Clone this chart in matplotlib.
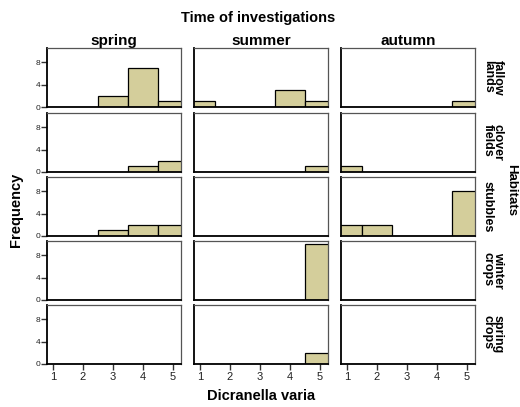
import matplotlib
matplotlib.use("Agg")
import matplotlib.pyplot as plt

plt.rcParams["font.family"] = ["Liberation Sans", "DejaVu Sans"]

seasons = ["spring", "summer", "autumn"]
habitats = ["fallow\nlands", "clover\nfields", "stubbles", "winter\ncrops", "spring\ncrops"]
bin_centers = [1, 2, 3, 4, 5]

# counts per bin, one list per habitat, for each season
spring_counts = [[0, 0, 2, 7, 1],
                 [0, 0, 0, 1, 2],
                 [0, 0, 1, 2, 2],
                 [0, 0, 0, 0, 0],
                 [0, 0, 0, 0, 0]]
summer_counts = [[1, 0, 0, 3, 1],
                 [0, 0, 0, 0, 1],
                 [0, 0, 0, 0, 0],
                 [0, 0, 0, 0, 10],
                 [0, 0, 0, 0, 2]]
autumn_counts = [[0, 0, 0, 0, 1],
                 [1, 0, 0, 0, 0],
                 [2, 2, 0, 0, 8],
                 [0, 0, 0, 0, 0],
                 [0, 0, 0, 0, 0]]
counts = [spring_counts, summer_counts, autumn_counts]

y_ticks = [0, 4, 8]

W, H = 520, 407
fig = plt.figure(figsize=(W / 100, H / 100), dpi=100)

col_left = [47, 194, 341]
col_w = 134
row_top = [48, 113, 177, 241, 305]
row_h = 59

bar_colour = "#D4CE9B"

for c, season in enumerate(seasons):
    for r, hab in enumerate(habitats):
        x0 = col_left[c] / W
        y0 = 1 - (row_top[r] + row_h) / H
        ax = fig.add_axes([x0, y0, col_w / W, row_h / H])
        ax.bar(bin_centers, counts[c][r], width=1.0, color=bar_colour,
               edgecolor="black", linewidth=0.9)
        ax.set_xlim(0.8, 5.27)
        ax.set_ylim(0, 10.5)
        for s in ("top", "right"):
            ax.spines[s].set_color("#555555")
            ax.spines[s].set_linewidth(0.9)
        for s in ("left", "bottom"):
            ax.spines[s].set_color("black")
            ax.spines[s].set_linewidth(1.3)
        ax.set_xticks(bin_centers)
        ax.set_yticks(y_ticks)
        ax.tick_params(axis="both", direction="out", length=4, width=1,
                       colors="#333333", labelcolor="#222222")
        ax.tick_params(axis="y", labelsize=6, pad=1)
        ax.tick_params(axis="x", labelsize=8, pad=2)
        if c != 0:
            ax.tick_params(axis="y", left=False, labelleft=False)
        if r != len(habitats) - 1:
            ax.tick_params(axis="x", bottom=False, labelbottom=False)
        if r == 0:
            ax.set_title(season, fontsize=11, fontweight="bold", pad=2)
        if c == len(seasons) - 1:
            ax.text(1.05, 0.5, hab, transform=ax.transAxes, rotation=-90,
                    ha="left", va="center", fontsize=9, fontweight="bold",
                    linespacing=0.8)

fig.text(258 / W, 1 - 18 / H, "Time of investigations", ha="center",
         va="center", fontsize=10.5, fontweight="bold")
fig.text(261 / W, 1 - 396 / H, "Dicranella varia", ha="center",
         va="center", fontsize=10.5, fontweight="bold")
fig.text(16 / W, 1 - 210 / H, "Frequency", ha="center", va="center",
         rotation=90, fontsize=10.5, fontweight="bold")
fig.text(511 / W, 1 - 190 / H, "Habitats", ha="center", va="center",
         rotation=-90, fontsize=9.5, fontweight="bold")

fig.savefig("out.png", dpi=100)
